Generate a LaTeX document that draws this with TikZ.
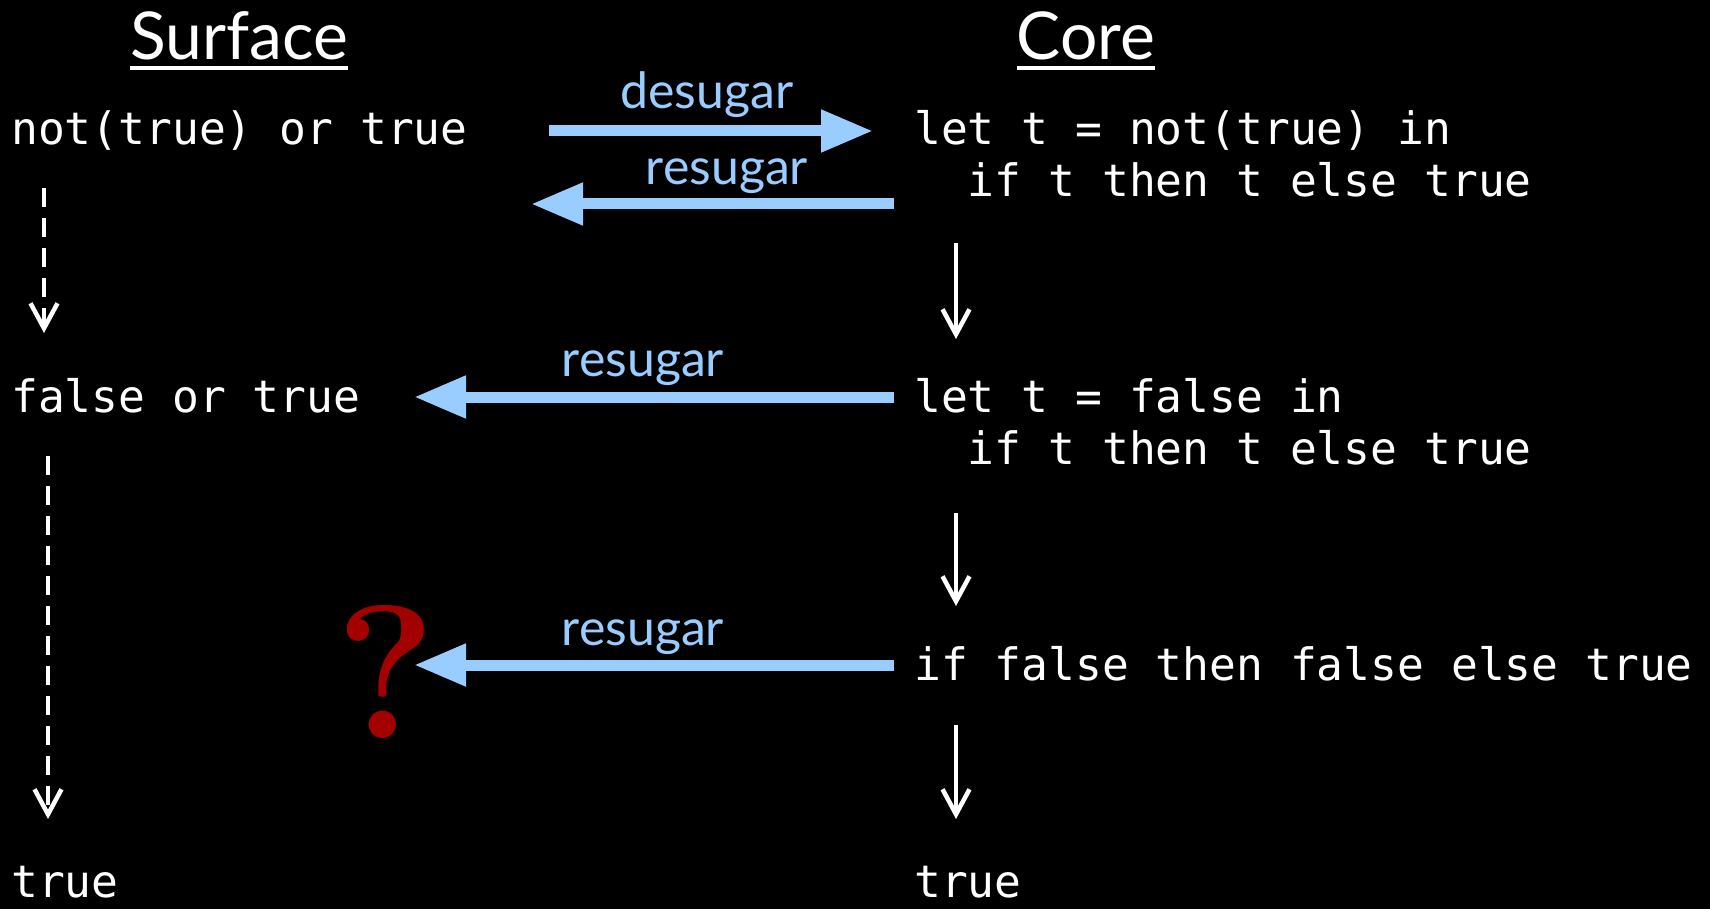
\documentclass[tikz,border=0pt]{standalone}
\usepackage{fontspec}
\newfontfamily\headfont{Lato}
\newfontfamily\monofont{DejaVu Sans Mono}
\usetikzlibrary{arrows.meta,calc}
\definecolor{lblue}{HTML}{99CCFF}
\definecolor{qred}{HTML}{A30000}
\begin{document}
\begin{tikzpicture}[x=1pt,y=-1pt,
  code/.style={anchor=base west,inner sep=0pt,text=white,font=\monofont\fontsize{44.6}{52}\selectfont},
  head/.style={anchor=base,inner sep=0pt,text=white,font=\headfont\fontsize{66}{70}\selectfont},
  lbl/.style={anchor=base,inner sep=0pt,text=lblue,font=\headfont\fontsize{50}{56}\selectfont},
  sugar/.style={draw=lblue,line width=11pt,-{Triangle[length=52pt,width=40pt]}},
  reduce/.style={draw=white,line width=4.5pt,-{Straight Barb[length=25pt,width=27pt,line width=4.5pt].}},
  sreduce/.style={reduce,dash pattern=on 19pt off 11pt,line width=4.5pt}]
\useasboundingbox (0,0) rectangle (1710,909);
\fill[black] (0,0) rectangle (1710,909);
% headings
\node[head] (surf) at (239,60) {Surface};
\node[head] (core) at (1086,60) {Core};
\draw[white,line width=3.5pt] ($(surf.base west)+(0,8)$) -- ($(surf.base east)+(0,8)$);
\draw[white,line width=3.5pt] ($(core.base west)+(0,8)$) -- ($(core.base east)+(0,8)$);
% surface column
\node[code] (s1) at (11,145) {not(true) or true};
\node[code] (s2) at (11,412) {false or true};
\node[code] (s3) at (11,897) {true};
% core column
\node[code] (c1) at (914,145) {let t = not(true) in};
\node[code] (c1b) at (914,197) {\ \ if t then t else true};
\node[code] (c2) at (914,412) {let t = false in};
\node[code] (c2b) at (914,464) {\ \ if t then t else true};
\node[code] (c3) at (914,680) {if false then false else true};
\node[code] (c4) at (914,897) {true};
% question mark
\node[inner sep=0pt,text=qred,font=\bfseries\fontsize{190}{190}\selectfont] (q) at (386,672) {?};
% arrow end points
\coordinate (d1a) at (549,131); \coordinate (d1b) at (873,131);
\coordinate (r1a) at (894,204); \coordinate (r1b) at (531,204);
\coordinate (r2a) at (894,397); \coordinate (r2b) at (414,397);
\coordinate (r3a) at (894,665); \coordinate (r3b) at (414,665);
\coordinate (k1a) at (956,243); \coordinate (k1b) at (956,339);
\coordinate (k2a) at (956,513); \coordinate (k2b) at (956,606);
\coordinate (k3a) at (956,725); \coordinate (k3b) at (956,819);
\coordinate (m1a) at (44,188); \coordinate (m1b) at (44,333);
\coordinate (m2a) at (48,456); \coordinate (m2b) at (48,819);
% sugar arrows
\draw[sugar] (d1a) -- (d1b);
\draw[sugar] (r1a) -- (r1b);
\draw[sugar] (r2a) -- (r2b);
\draw[sugar] (r3a) -- (r3b);
\node[lbl] (ld1) at (707,109) {desugar};
\node[lbl] (lr1) at (727,185) {resugar};
\node[lbl] (lr2) at (643,376) {resugar};
\node[lbl] (lr3) at (643,645) {resugar};
% reduction arrows
\draw[reduce] (k1a) -- (k1b);
\draw[reduce] (k2a) -- (k2b);
\draw[reduce] (k3a) -- (k3b);
\draw[sreduce] (m1a) -- (m1b);
\draw[sreduce] (m2a) -- (m2b);
\end{tikzpicture}
\end{document}
